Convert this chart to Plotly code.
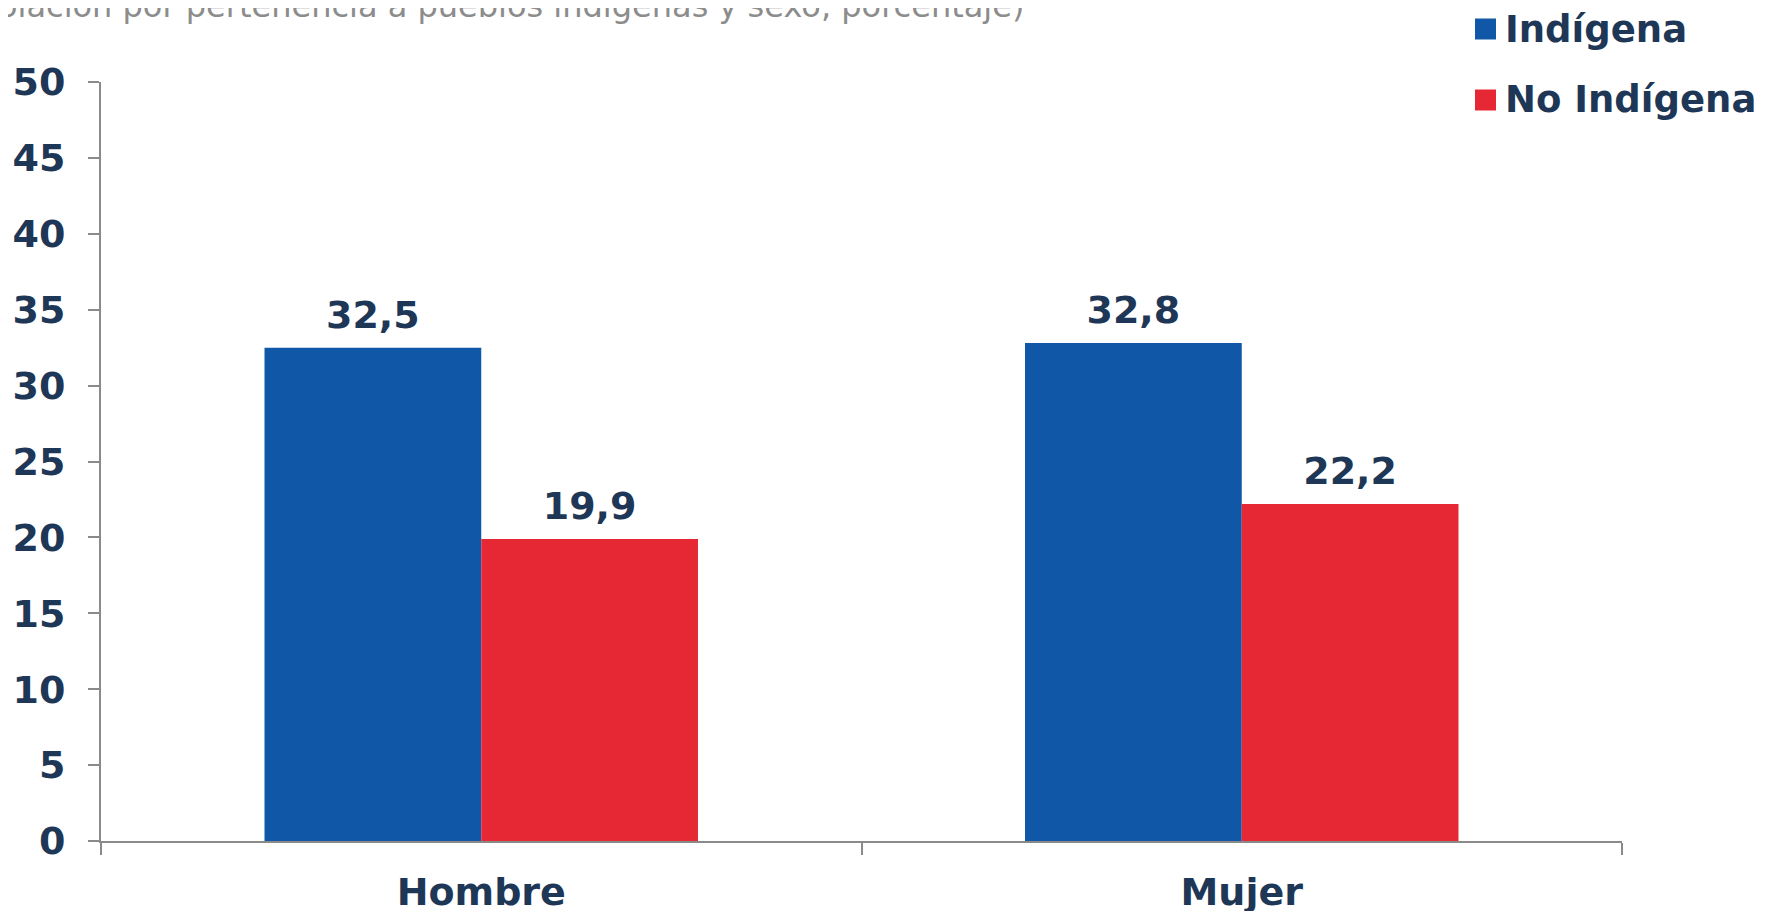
import plotly.graph_objects as go

categories = ["Hombre", "Mujer"]
indigena = [32.5, 32.8]
no_indigena = [19.9, 22.2]
series_names = ["Indígena", "No Indígena"]
y_ticks = [0, 5, 10, 15, 20, 25, 30, 35, 40, 45, 50]
subtitle = "(Población por pertenencia a pueblos indígenas y sexo, porcentaje)"

BLUE = "#1057a8"
RED = "#e62835"
NAVY = "#1e3756"
AXIS = "#8a8a8a"
FONT = "DejaVu Sans"
FS = 38

W, H = 1766, 911
OFF = 8  # page body margin
# plot area in page pixels: x 101..1622, y 82..841
ml, mt = 101 - OFF, 82 - OFF
mr = W - (1622 - OFF)
mb = H - (841 - OFF)
pw = W - ml - mr
ph = H - mt - mb


def px_x(px):
    return (px - OFF - ml) / pw


def px_y(py):
    return 1 + (mt - (py - OFF)) / ph


colors = [BLUE, RED]
series = [indigena, no_indigena]
fig = go.Figure()
for i, (name, vals, col) in enumerate(zip(series_names, series, colors)):
    fig.add_trace(go.Bar(
        x=categories, y=vals, name=name, marker=dict(color=col, line=dict(width=0)),
        offsetgroup=str(i), alignmentgroup="g", showlegend=False,
        hovertemplate="%{x}: %{y:.1f}<extra>" + name + "</extra>",
    ))
# value labels above each bar
for i, (name, vals) in enumerate(zip(series_names, series)):
    fig.add_trace(go.Scatter(
        x=categories, y=vals, mode="markers+text", texttemplate="%{y:.1f}",
        textposition="top center", cliponaxis=False,
        marker=dict(size=15, opacity=0),
        textfont=dict(family=FONT, size=FS, color=NAVY, weight="bold"),
        offsetgroup=str(i), alignmentgroup="g", showlegend=False, hoverinfo="skip",
    ))

# legend drawn as layout items (square swatches + labels)
shapes = []
annotations = []
legend_rows = [29, 100]
for name, col, cy in zip(series_names, colors, legend_rows):
    shapes.append(dict(
        type="rect", xref="paper", yref="paper",
        x0=px_x(1475), x1=px_x(1496), y0=px_y(cy + 10.5), y1=px_y(cy - 10.5),
        fillcolor=col, line=dict(width=0), layer="above",
    ))
    annotations.append(dict(
        text=name, xref="paper", yref="paper", x=px_x(1503), y=px_y(cy),
        xanchor="left", yanchor="middle", showarrow=False,
        font=dict(family=FONT, size=37, color=NAVY, weight="bold"),
    ))

annotations.append(dict(
    text=subtitle, xref="paper", yref="paper",
    x=px_x(1026), y=px_y(6),
    xanchor="right", yanchor="middle", showarrow=False,
    font=dict(family=FONT, size=32, color="#8c8c8c"),
))

fig.update_layout(
    width=W, height=H,
    margin=dict(l=ml, r=mr, t=mt, b=mb, pad=0, autoexpand=False),
    paper_bgcolor="white", plot_bgcolor="white",
    barmode="group", bargap=0.43, bargroupgap=0,
    scattermode="group", scattergap=0.43,
    separators=",.",
    font=dict(family=FONT, color=NAVY),
    showlegend=False,
    shapes=shapes,
    annotations=annotations,
)

fig.update_yaxes(
    range=[0, 50], tickvals=y_ticks, ticks="outside", ticklen=11, tickwidth=2,
    tickcolor=AXIS, showline=True, linecolor=AXIS, linewidth=2, showgrid=False,
    zeroline=False, tickfont=dict(family=FONT, size=FS, color=NAVY, weight="bold"),
    ticklabelstandoff=15,
)
fig.update_xaxes(
    ticks="outside", tickson="boundaries", ticklen=12, tickwidth=2, tickcolor=AXIS,
    showline=True, linecolor=AXIS, linewidth=2, showgrid=False,
    tickfont=dict(family=FONT, size=FS, color=NAVY, weight="bold"),
    ticklabelstandoff=16,
)

fig.write_html("out.html")
